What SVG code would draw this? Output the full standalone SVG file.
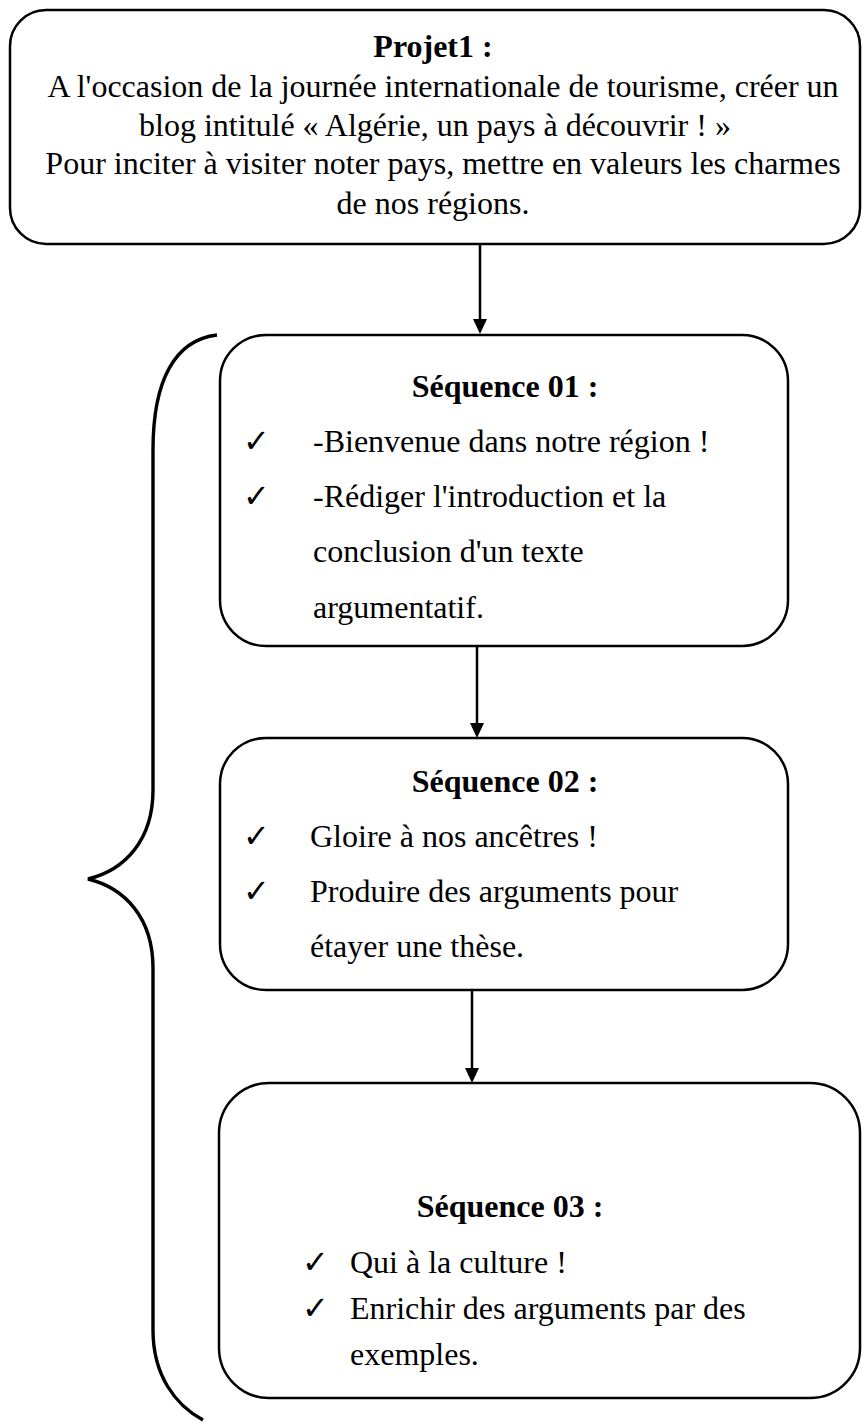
<svg xmlns="http://www.w3.org/2000/svg" width="862" height="1422" viewBox="0 0 862 1422">
<defs>
<style>
.box{fill:#fff;stroke:#000;stroke-width:2.5}
.t{font-family:"Liberation Serif","Times New Roman",serif;font-size:32px;fill:#000}
.b{font-weight:bold;text-anchor:middle}
.c{text-anchor:middle}
.conn{stroke:#000;stroke-width:2.5;fill:none}
</style>
</defs>
<rect width="862" height="1422" fill="#fff"/>
<g id="brace">
<path d="M217,335 C175,340 153,380 153,450 L153,790 C153,840 125,870 88,879 C125,888 153,918 153,968 L153,1330 C153,1375 175,1405 203,1420" fill="none" stroke="#000" stroke-width="3.4"/>
</g>
<g id="connectors">
<path class="conn" d="M480,244 V319"/><path d="M473,319 H487 L480,334 Z"/>
<path class="conn" d="M477,646 V723"/><path d="M470,723 H484 L477,738 Z"/>
<path class="conn" d="M472,990 V1068"/><path d="M465,1068 H479 L472,1083 Z"/>
</g>
<g id="projet">
<rect class="box" x="10" y="10" width="850" height="234" rx="36"/>
<text class="t b" x="433" y="57">Projet1 :</text>
<text class="t c" x="443" y="97">A l'occasion de la journée internationale de tourisme, créer un</text>
<text class="t c" x="435" y="136">blog intitulé « Algérie, un pays à découvrir ! »</text>
<text class="t c" x="443" y="174">Pour inciter à visiter noter pays, mettre en valeurs les charmes</text>
<text class="t c" x="433" y="214">de nos régions.</text>
</g>
<g id="seq01">
<rect class="box" x="220" y="335" width="568" height="311" rx="46"/>
<text class="t b" x="505" y="397">Séquence 01 :</text>
<text class="t" x="243" y="452">✓</text><text class="t" x="313" y="452">-Bienvenue dans notre région !</text>
<text class="t" x="243" y="507">✓</text><text class="t" x="313" y="507">-Rédiger l'introduction et la</text>
<text class="t" x="313" y="562">conclusion d'un texte</text>
<text class="t" x="313" y="618">argumentatif.</text>
</g>
<g id="seq02">
<rect class="box" x="220" y="738" width="568" height="252" rx="46"/>
<text class="t b" x="505" y="792">Séquence 02 :</text>
<text class="t" x="243" y="847">✓</text><text class="t" x="310" y="847">Gloire à nos ancêtres !</text>
<text class="t" x="243" y="902">✓</text><text class="t" x="310" y="902">Produire des arguments pour</text>
<text class="t" x="310" y="957">étayer une thèse.</text>
</g>
<g id="seq03">
<rect class="box" x="219" y="1083" width="641" height="315" rx="50"/>
<text class="t b" x="510" y="1217">Séquence 03 :</text>
<text class="t" x="302" y="1273">✓</text><text class="t" x="350" y="1273">Qui à la culture !</text>
<text class="t" x="302" y="1319">✓</text><text class="t" x="350" y="1319">Enrichir des arguments par des</text>
<text class="t" x="350" y="1365">exemples.</text>
</g>
</svg>
